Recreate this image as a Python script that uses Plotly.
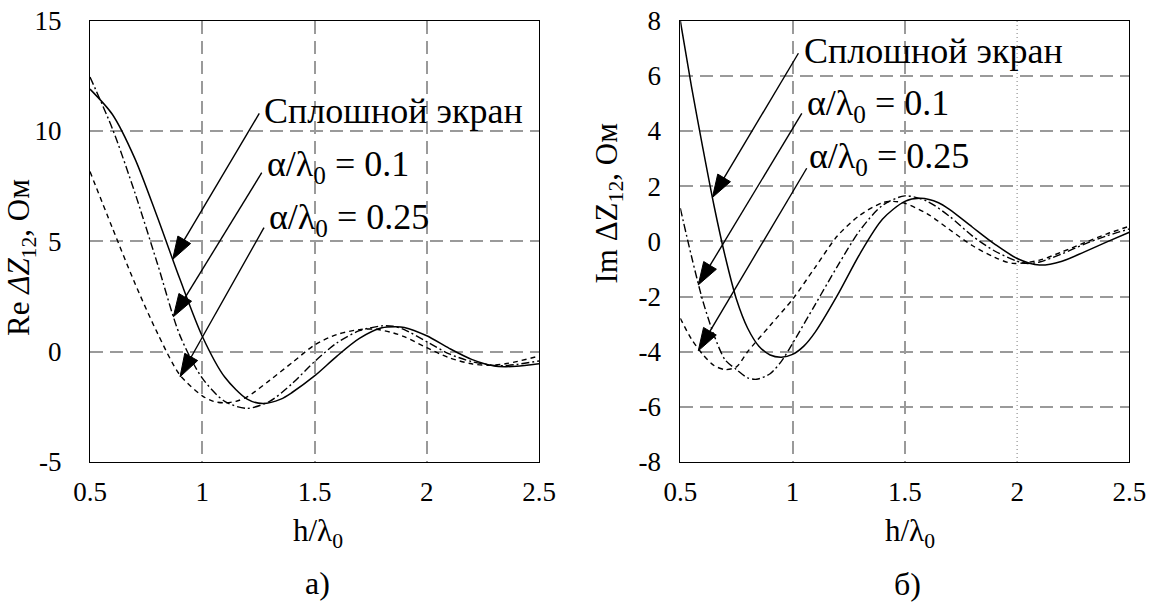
import plotly.graph_objects as go

# ---------------- data ----------------
# panel a) Re dZ12, Ohm
re_solid_x = [0.5, 0.6, 0.7, 0.8, 0.9, 1.0, 1.1, 1.2, 1.27, 1.35, 1.4, 1.5, 1.6, 1.7, 1.8, 1.86, 1.9, 2.0, 2.1, 2.2, 2.3, 2.35, 2.4, 2.5]
re_solid_y = [11.9, 10.75, 8.75, 6.1, 3.3, 0.7, -1.15, -2.15, -2.35, -2.15, -1.85, -1.1, -0.2, 0.6, 1.08, 1.13, 1.1, 0.72, 0.15, -0.35, -0.65, -0.68, -0.66, -0.55]

re_a01_x = [0.5, 0.6, 0.7, 0.8, 0.9, 1.0, 1.1, 1.2, 1.3, 1.4, 1.5, 1.6, 1.7, 1.8, 1.85, 1.9, 2.0, 2.1, 2.2, 2.3, 2.35, 2.4, 2.5]
re_a01_y = [12.45, 10.1, 7.2, 4.0, 0.75, -1.2, -2.25, -2.57, -2.25, -1.45, -0.45, 0.4, 0.95, 1.17, 1.15, 1.0, 0.45, -0.1, -0.45, -0.62, -0.63, -0.58, -0.42]

re_a025_x = [0.5, 0.6, 0.7, 0.8, 0.9, 1.0, 1.05, 1.1, 1.15, 1.2, 1.3, 1.4, 1.5, 1.6, 1.7, 1.77, 1.85, 1.9, 2.0, 2.1, 2.2, 2.28, 2.35, 2.4, 2.5]
re_a025_y = [8.16, 5.6, 3.1, 0.85, -1.05, -2.0, -2.25, -2.32, -2.25, -2.05, -1.3, -0.5, 0.3, 0.78, 1.0, 1.02, 0.85, 0.68, 0.18, -0.28, -0.55, -0.62, -0.55, -0.45, -0.2]

# panel б) Im dZ12, Ohm
im_solid_x = [0.5, 0.55, 0.6, 0.65, 0.7, 0.75, 0.8, 0.85, 0.9, 0.95, 1.0, 1.05, 1.1, 1.2, 1.3, 1.4, 1.5, 1.57, 1.65, 1.7, 1.8, 1.9, 2.0, 2.1, 2.2, 2.3, 2.4, 2.5]
im_solid_y = [8.0, 5.6, 3.4, 1.3, -0.55, -2.1, -3.15, -3.8, -4.12, -4.2, -4.1, -3.8, -3.3, -1.95, -0.45, 0.8, 1.45, 1.56, 1.4, 1.15, 0.52, -0.1, -0.62, -0.86, -0.72, -0.38, -0.02, 0.33]

im_a01_x = [0.5, 0.55, 0.6, 0.65, 0.7, 0.75, 0.8, 0.84, 0.9, 0.95, 1.0, 1.1, 1.2, 1.3, 1.4, 1.5, 1.6, 1.7, 1.8, 1.9, 2.0, 2.04, 2.1, 2.2, 2.3, 2.4, 2.5]
im_a01_y = [1.2, -0.55, -2.15, -3.4, -4.3, -4.65, -4.95, -5.0, -4.8, -4.35, -3.7, -2.3, -0.9, 0.4, 1.3, 1.65, 1.45, 0.9, 0.2, -0.35, -0.72, -0.8, -0.75, -0.45, -0.1, 0.2, 0.45]

im_a025_x = [0.5, 0.55, 0.6, 0.65, 0.7, 0.75, 0.8, 0.9, 1.0, 1.1, 1.2, 1.3, 1.4, 1.45, 1.5, 1.6, 1.7, 1.8, 1.9, 1.98, 2.1, 2.2, 2.3, 2.4, 2.5]
im_a025_y = [-2.79, -3.55, -4.1, -4.5, -4.65, -4.55, -4.0, -3.05, -2.1, -0.95, 0.2, 0.95, 1.4, 1.45, 1.38, 1.0, 0.42, -0.15, -0.58, -0.8, -0.68, -0.38, -0.05, 0.27, 0.55]

x_ticks = [0.5, 1, 1.5, 2, 2.5]
x_tick_text = ["0.5", "1", "1.5", "2", "2.5"]
re_ticks = [-5, 0, 5, 10, 15]
re_tick_text = ["-5", "0", "5", "10", "15"]
im_ticks = [-8, -6, -4, -2, 0, 2, 4, 6, 8]
im_tick_text = ["-8", "-6", "-4", "-2", "0", "2", "4", "6", "8"]

labels = ["Сплошной экран", "α/λ<sub>0</sub> = 0.1", "α/λ<sub>0</sub> = 0.25"]

# pointer arrows: (tip on the curve) -> (tail at the label), data units
arr_a_tip_x = [0.868, 0.871, 0.901]
arr_a_tip_y = [4.18, 1.58, -1.14]
arr_a_tail_x = [1.254, 1.265, 1.275]
arr_a_tail_y = [10.80, 8.11, 5.62]
arr_b_tip_x = [0.643, 0.580, 0.580]
arr_b_tip_y = [1.59, -1.58, -3.97]
arr_b_tail_x = [1.026, 1.041, 1.063]
arr_b_tail_y = [6.82, 4.64, 2.65]

# ---------------- style ----------------
FONT = "Liberation Serif, Times New Roman, serif"
GRID = "#9a9a9a"
DASH_GRID = "13px,7px"
styles = [
    dict(color="black", width=1.5, dash="solid"),
    dict(color="black", width=1.4, dash="8px,3px,2px,3px"),
    dict(color="black", width=1.4, dash="5px,4px"),
]

W, H = 1153, 603


def px(v):
    return v / W


def py(v):
    return 1 - v / H


fig = go.Figure()

panel_a = [(re_solid_x, re_solid_y), (re_a01_x, re_a01_y), (re_a025_x, re_a025_y)]
panel_b = [(im_solid_x, im_solid_y), (im_a01_x, im_a01_y), (im_a025_x, im_a025_y)]

for (xs, ys), st, name in zip(panel_a, styles, labels):
    fig.add_trace(go.Scatter(x=xs, y=ys, mode="lines", line=dict(shape="spline", smoothing=0.8, **st),
                             name=name, showlegend=False, hoverinfo="skip", xaxis="x", yaxis="y"))
for (xs, ys), st, name in zip(panel_b, styles, labels):
    fig.add_trace(go.Scatter(x=xs, y=ys, mode="lines", line=dict(shape="spline", smoothing=0.8, **st),
                             name=name, showlegend=False, hoverinfo="skip", xaxis="x2", yaxis="y2"))

# arrows drawn as line + arrow-head marker pointing along the segment
for axn, tipx, tipy, tlx, tly in (("", arr_a_tip_x, arr_a_tip_y, arr_a_tail_x, arr_a_tail_y),
                                   ("2", arr_b_tip_x, arr_b_tip_y, arr_b_tail_x, arr_b_tail_y)):
    for i in range(3):
        fig.add_trace(go.Scatter(
            x=[tlx[i], tipx[i]], y=[tly[i], tipy[i]], mode="lines+markers",
            line=dict(color="black", width=1.4),
            marker=dict(symbol=["circle", "arrow"], size=[0, 24], angleref="previous",
                        color="black", opacity=1, line=dict(width=1, color="black")),
            showlegend=False, hoverinfo="skip", xaxis="x" + axn, yaxis="y" + axn))

axis_common = dict(
    showline=True, linecolor="black", linewidth=1, mirror=True,
    ticks="", zeroline=False, automargin=False,
    tickfont=dict(family=FONT, size=27, color="black"),
)
grid_style = dict(gridcolor=GRID, gridwidth=1.5, griddash=DASH_GRID)

ydom = [(H - 462) / H, (H - 20.7) / H]

fig.update_layout(
    width=W, height=H, autosize=False,
    margin=dict(l=0, r=0, t=0, b=0, pad=0, autoexpand=False),
    paper_bgcolor="white", plot_bgcolor="white",
    font=dict(family=FONT, color="black"),
    xaxis=dict(domain=[90 / W, 539 / W], range=[0.5, 2.5], tickmode="array", tickvals=x_ticks,
               ticktext=x_tick_text, showgrid=True, anchor="y", ticklabelstandoff=6,
               **axis_common, **grid_style),
    yaxis=dict(domain=ydom, range=[-5, 15], tickmode="array", tickvals=re_ticks, ticktext=re_tick_text,
               showgrid=True, anchor="x", ticklabelstandoff=22, **axis_common, **grid_style),
    xaxis2=dict(domain=[680.3 / W, 1129.4 / W], range=[0.5, 2.5], tickmode="array", tickvals=x_ticks,
                ticktext=x_tick_text, showgrid=False, anchor="y2", ticklabelstandoff=6,
                minor=dict(tickmode="array", tickvals=[1, 1.5], showgrid=True, ticks="", **grid_style),
                **axis_common),
    yaxis2=dict(domain=ydom, range=[-8, 8], tickmode="array", tickvals=im_ticks, ticktext=im_tick_text,
                showgrid=True, anchor="x2", ticklabelstandoff=13, **axis_common, **grid_style),
)

# dotted grid line at h/λ0 = 2 in panel б)
fig.add_shape(type="line", xref="x2", yref="y2 domain", x0=2, x1=2, y0=0, y1=1,
              line=dict(color=GRID, width=1.3, dash="1px,3px"), layer="below")

ann = []
# axis titles and panel captions
ann.append(dict(x=px(21), y=py(258), xref="paper", yref="paper", textangle=-90,
                text="Re <i>ΔZ</i><sub>12</sub>, Ом", showarrow=False,
                font=dict(family=FONT, size=31), xanchor="center", yanchor="middle"))
ann.append(dict(x=px(608), y=py(203.5), xref="paper", yref="paper", textangle=-90,
                text="Im ΔZ<sub>12</sub>, Ом", showarrow=False,
                font=dict(family=FONT, size=31), xanchor="center", yanchor="middle"))
for cx in (318, 910):
    ann.append(dict(x=px(cx), y=py(533), xref="paper", yref="paper", text="h/λ<sub>0</sub>",
                    showarrow=False, font=dict(family=FONT, size=31), xanchor="center", yanchor="middle"))
ann.append(dict(x=px(317), y=py(583), xref="paper", yref="paper", text="а)", showarrow=False,
                font=dict(family=FONT, size=32), xanchor="center", yanchor="middle"))
ann.append(dict(x=px(907), y=py(584), xref="paper", yref="paper", text="б)", showarrow=False,
                font=dict(family=FONT, size=32), xanchor="center", yanchor="middle"))

# curve labels (data coordinates)
lab_a = [(1.266, 10.91), (1.280, 8.41), (1.289, 5.97)]
lab_b = [(1.041, 6.90), (1.055, 4.91), (1.063, 2.99)]
for (lx, ly), t in zip(lab_a, labels):
    ann.append(dict(x=lx, y=ly, xref="x", yref="y", text=t, showarrow=False, xanchor="left",
                    yanchor="middle", font=dict(family=FONT, size=36)))
for (lx, ly), t in zip(lab_b, labels):
    ann.append(dict(x=lx, y=ly, xref="x2", yref="y2", text=t, showarrow=False, xanchor="left",
                    yanchor="middle", font=dict(family=FONT, size=36)))

fig.update_layout(annotations=ann)

fig.write_html("out.html", config={"displayModeBar": False},
               post_script="document.body.style.margin='0';document.body.style.padding='0';")
